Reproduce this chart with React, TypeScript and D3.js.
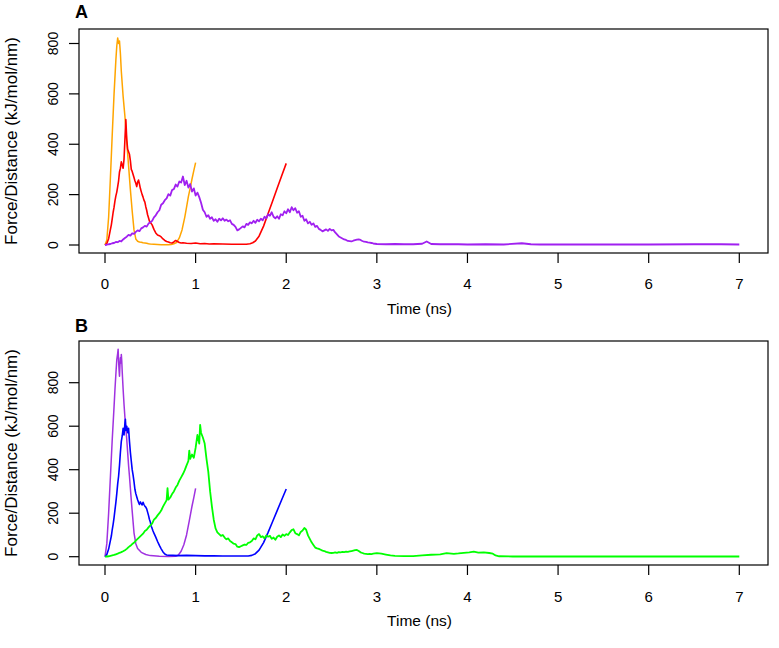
import React from 'react';
import * as d3 from 'd3';

type P = [number, number];

const xTicks = [0, 1, 2, 3, 4, 5, 6, 7];
const yTicks = [0, 200, 400, 600, 800];
const xTitle = 'Time (ns)';
const yTitle = 'Force/Distance (kJ/mol/nm)';

// Panel A series
const orangeA: P[] = [[0,0],[0.02,20],[0.04,110],[0.06,270],[0.08,440],[0.10,600],[0.12,735],[0.13,790],[0.14,822],[0.15,800],[0.16,810],[0.17,760],[0.18,690],[0.20,590],[0.22,510],[0.24,410],[0.26,315],[0.28,220],[0.30,135],[0.32,60],[0.34,24],[0.36,15],[0.38,12],[0.40,11],[0.42,9],[0.44,8],[0.46,7],[0.48,5],[0.50,4],[0.54,3],[0.58,2],[0.62,1],[0.66,1],[0.70,1],[0.73,2],[0.76,5],[0.79,10],[0.82,28],[0.85,60],[0.88,110],[0.90,150],[0.92,192],[0.94,226],[0.96,262],[0.98,295],[1.0,327]];

const redA: P[] = [[0,0],[0.02,6],[0.04,25],[0.06,62],[0.07,80],[0.08,105],[0.09,130],[0.10,150],[0.11,175],[0.12,195],[0.13,210],[0.14,232],[0.15,255],[0.16,290],[0.17,305],[0.18,330],[0.19,318],[0.20,305],[0.21,340],[0.22,420],[0.23,498],[0.24,420],[0.25,380],[0.26,370],[0.27,360],[0.28,335],[0.29,300],[0.30,292],[0.31,280],[0.32,268],[0.33,255],[0.34,245],[0.35,232],[0.36,250],[0.37,258],[0.38,242],[0.39,225],[0.40,212],[0.41,200],[0.42,190],[0.43,178],[0.44,170],[0.45,152],[0.46,138],[0.47,120],[0.48,108],[0.49,95],[0.50,90],[0.52,80],[0.54,62],[0.56,48],[0.58,40],[0.60,37],[0.62,32],[0.64,24],[0.66,18],[0.68,14],[0.70,12],[0.72,9],[0.74,8],[0.76,12],[0.78,18],[0.80,14],[0.82,10],[0.84,8],[0.86,9],[0.90,7],[0.95,6],[1.0,8],[1.05,5],[1.1,6],[1.15,4],[1.2,5],[1.3,4],[1.4,3],[1.5,3],[1.56,3],[1.6,5],[1.63,9],[1.66,16],[1.7,35],[1.75,75],[1.8,125],[1.85,175],[1.9,225],[1.95,275],[2.0,324]];

const purpleA: P[] = [[0,0],[0.02,1],[0.04,3],[0.06,4],[0.08,7],[0.10,8],[0.12,12],[0.14,11],[0.16,16],[0.18,14],[0.20,22],[0.22,28],[0.24,33],[0.26,40],[0.28,37],[0.30,46],[0.32,44],[0.34,52],[0.36,58],[0.38,55],[0.40,66],[0.42,70],[0.44,76],[0.46,73],[0.48,85],[0.50,90],[0.52,96],[0.54,110],[0.56,118],[0.58,130],[0.60,138],[0.62,160],[0.64,166],[0.66,178],[0.68,185],[0.70,202],[0.72,196],[0.74,218],[0.76,222],[0.78,240],[0.80,232],[0.82,252],[0.84,248],[0.86,272],[0.88,238],[0.90,255],[0.92,228],[0.94,242],[0.96,212],[0.98,225],[1.00,196],[1.02,208],[1.04,190],[1.06,168],[1.08,140],[1.10,130],[1.12,112],[1.14,118],[1.16,104],[1.18,110],[1.20,96],[1.22,102],[1.24,92],[1.26,104],[1.28,98],[1.30,106],[1.32,96],[1.34,101],[1.36,94],[1.38,98],[1.40,84],[1.42,80],[1.44,72],[1.46,58],[1.48,62],[1.50,68],[1.52,74],[1.54,70],[1.56,84],[1.58,80],[1.60,90],[1.62,86],[1.64,96],[1.66,88],[1.68,100],[1.70,94],[1.72,104],[1.74,98],[1.76,112],[1.78,106],[1.80,122],[1.82,116],[1.84,130],[1.86,112],[1.88,106],[1.90,114],[1.92,104],[1.94,122],[1.96,118],[1.98,134],[2.00,126],[2.02,142],[2.04,130],[2.06,150],[2.08,138],[2.10,146],[2.12,128],[2.14,134],[2.16,112],[2.18,116],[2.20,96],[2.22,102],[2.24,86],[2.26,92],[2.28,80],[2.30,86],[2.32,72],[2.34,76],[2.36,64],[2.38,60],[2.40,54],[2.42,58],[2.44,62],[2.46,56],[2.48,64],[2.50,58],[2.52,60],[2.54,50],[2.56,42],[2.58,34],[2.60,30],[2.62,26],[2.64,22],[2.66,20],[2.68,16],[2.70,15],[2.72,14],[2.74,17],[2.76,19],[2.78,21],[2.80,22],[2.82,20],[2.84,16],[2.86,13],[2.88,12],[2.90,10],[2.92,9],[2.94,8],[2.96,6],[2.98,5],[3.00,4],[3.1,3],[3.2,4],[3.3,3],[3.4,3],[3.5,5],[3.55,14],[3.6,4],[3.7,3],[3.8,3],[3.9,3],[4.0,2],[4.2,3],[4.4,2],[4.6,7],[4.7,3],[4.8,2],[5.0,2],[5.5,2],[6.0,2],[6.5,3],[6.8,3],[7.0,2]];

// Panel B series
const purpleB: P[] = [[0,0],[0.02,60],[0.04,200],[0.06,370],[0.08,540],[0.10,690],[0.11,770],[0.12,840],[0.13,905],[0.14,935],[0.145,954],[0.15,900],[0.155,860],[0.16,830],[0.165,880],[0.17,915],[0.175,890],[0.18,930],[0.185,900],[0.19,850],[0.20,770],[0.21,700],[0.22,640],[0.24,540],[0.26,420],[0.27,370],[0.29,260],[0.31,160],[0.32,110],[0.34,60],[0.36,38],[0.40,20],[0.45,10],[0.50,5],[0.6,2],[0.7,1],[0.78,2],[0.81,8],[0.84,25],[0.87,55],[0.90,100],[0.93,165],[0.96,232],[0.98,272],[1.0,314]];

const blueB: P[] = [[0,0],[0.02,10],[0.04,35],[0.06,75],[0.07,95],[0.08,125],[0.09,150],[0.10,180],[0.11,215],[0.12,250],[0.13,290],[0.14,335],[0.15,370],[0.16,420],[0.17,480],[0.18,530],[0.19,555],[0.20,590],[0.21,560],[0.22,615],[0.225,632],[0.23,580],[0.24,600],[0.25,570],[0.26,590],[0.27,530],[0.28,480],[0.29,440],[0.30,400],[0.31,375],[0.32,345],[0.33,310],[0.34,290],[0.35,276],[0.36,262],[0.37,250],[0.38,240],[0.39,252],[0.40,244],[0.41,238],[0.42,250],[0.43,240],[0.44,232],[0.45,228],[0.46,220],[0.47,205],[0.48,190],[0.49,172],[0.50,160],[0.51,140],[0.52,130],[0.53,118],[0.54,108],[0.56,90],[0.58,70],[0.60,52],[0.62,36],[0.64,22],[0.66,12],[0.68,8],[0.70,7],[0.75,6],[0.8,5],[0.9,6],[1.0,5],[1.1,4],[1.2,4],[1.3,3],[1.4,3],[1.5,3],[1.58,3],[1.62,6],[1.66,14],[1.7,30],[1.75,65],[1.8,112],[1.85,162],[1.9,212],[1.95,262],[2.0,311]];

const greenB: P[] = [[0,0],[0.02,1],[0.04,2],[0.06,4],[0.08,6],[0.10,8],[0.12,11],[0.14,14],[0.16,18],[0.18,21],[0.20,25],[0.22,30],[0.24,36],[0.26,44],[0.28,50],[0.30,58],[0.32,64],[0.34,74],[0.36,82],[0.38,90],[0.40,98],[0.42,106],[0.44,118],[0.46,124],[0.48,135],[0.50,144],[0.52,152],[0.54,170],[0.56,178],[0.58,190],[0.60,200],[0.62,212],[0.64,230],[0.66,245],[0.68,260],[0.69,315],[0.70,262],[0.72,272],[0.74,288],[0.76,300],[0.78,318],[0.80,330],[0.82,350],[0.84,365],[0.86,380],[0.88,398],[0.90,420],[0.92,440],[0.93,488],[0.94,450],[0.96,470],[0.98,455],[1.00,500],[1.02,560],[1.04,520],[1.05,606],[1.06,570],[1.08,548],[1.10,520],[1.12,450],[1.14,390],[1.16,300],[1.18,230],[1.20,170],[1.22,130],[1.24,112],[1.26,104],[1.28,96],[1.30,100],[1.32,88],[1.34,80],[1.36,84],[1.38,72],[1.40,66],[1.42,60],[1.44,58],[1.46,46],[1.48,44],[1.50,48],[1.52,52],[1.54,56],[1.56,54],[1.58,64],[1.60,66],[1.62,72],[1.64,84],[1.66,80],[1.68,98],[1.70,104],[1.72,90],[1.74,94],[1.76,84],[1.78,98],[1.80,92],[1.82,96],[1.84,82],[1.86,88],[1.88,78],[1.90,92],[1.92,98],[1.94,90],[1.96,102],[1.98,96],[2.00,104],[2.02,100],[2.04,112],[2.06,122],[2.08,126],[2.10,108],[2.12,104],[2.14,98],[2.16,114],[2.18,120],[2.20,132],[2.22,124],[2.24,98],[2.26,82],[2.28,66],[2.30,54],[2.32,42],[2.34,38],[2.36,36],[2.38,32],[2.40,28],[2.42,26],[2.44,22],[2.46,20],[2.48,18],[2.50,17],[2.52,18],[2.54,20],[2.56,18],[2.58,21],[2.60,20],[2.62,22],[2.64,21],[2.66,23],[2.68,22],[2.70,24],[2.72,26],[2.74,28],[2.76,30],[2.78,31],[2.80,26],[2.82,20],[2.84,17],[2.86,14],[2.88,13],[2.90,12],[2.92,13],[2.94,12],[2.96,14],[2.98,15],[3.00,16],[3.05,14],[3.1,10],[3.15,6],[3.2,4],[3.3,3],[3.4,3],[3.5,6],[3.6,9],[3.7,11],[3.77,16],[3.85,13],[3.9,15],[3.96,18],[4.02,20],[4.07,23],[4.12,19],[4.18,20],[4.24,17],[4.28,14],[4.31,6],[4.35,2],[4.5,1],[5.0,1],[5.5,1],[6.0,1],[6.5,1],[7.0,1]];

const FONT = '"Liberation Sans", Arial, Helvetica, sans-serif';

type Series = { data: P[]; color: string; width: number };

type PanelProps = {
  label: string;
  labelY: number;
  boxTop: number;
  boxBottom: number;
  yZero: number;
  y800: number;
  tickLabelY: number;
  titleY: number;
  series: Series[];
};

const BOX_LEFT = 79;
const BOX_RIGHT = 768;

function Panel(p: PanelProps) {
  const x = d3.scaleLinear().domain([0, 7]).range([105, 739.3]);
  const y = d3.scaleLinear().domain([0, 800]).range([p.yZero, p.y800]);
  const line = d3
    .line<P>()
    .x((d) => x(d[0]))
    .y((d) => y(d[1]));
  const midY = (p.boxTop + p.boxBottom) / 2;
  const midX = (BOX_LEFT + BOX_RIGHT) / 2;
  return (
    <g>
      <text x={75} y={p.labelY} fontFamily={FONT} fontWeight="bold" fontSize={18}>
        {p.label}
      </text>
      {p.series.map((s, i) => (
        <path key={i} d={line(s.data) || ''} fill="none" stroke={s.color} strokeWidth={s.width} strokeLinejoin="round" />
      ))}
      <rect x={BOX_LEFT} y={p.boxTop} width={BOX_RIGHT - BOX_LEFT} height={p.boxBottom - p.boxTop} fill="none" stroke="#000" strokeWidth={1.2} />
      {xTicks.map((t) => (
        <g key={t}>
          <line x1={x(t)} x2={x(t)} y1={p.boxBottom} y2={p.boxBottom + 10} stroke="#000" strokeWidth={1.2} />
          <text x={x(t)} y={p.tickLabelY + 5.5} textAnchor="middle" fontFamily={FONT} fontSize={15}>
            {t}
          </text>
        </g>
      ))}
      {yTicks.map((t) => (
        <g key={t}>
          <line x1={BOX_LEFT - 10} x2={BOX_LEFT} y1={y(t)} y2={y(t)} stroke="#000" strokeWidth={1.2} />
          <text transform={`translate(58,${y(t)}) rotate(-90)`} textAnchor="middle" fontFamily={FONT} fontSize={14}>
            {t}
          </text>
        </g>
      ))}
      <text x={midX - 4} y={p.titleY} textAnchor="middle" fontFamily={FONT} fontSize={15.5}>
        {xTitle}
      </text>
      <text transform={`translate(17,${midY}) rotate(-90)`} textAnchor="middle" fontFamily={FONT} fontSize={17}>
        {yTitle}
      </text>
    </g>
  );
}

export default function App() {
  return (
    <svg width={779} height={648} style={{ position: 'absolute', left: 0, top: 0, background: '#fff' }}>
      <rect x={0} y={0} width={779} height={648} fill="#fff" />
      <Panel
        label="A"
        labelY={18}
        boxTop={29}
        boxBottom={253}
        yZero={245}
        y800={43.5}
        tickLabelY={283}
        titleY={314}
        series={[
          { data: orangeA, color: '#FFA500', width: 1.5 },
          { data: redA, color: '#FF0000', width: 1.6 },
          { data: purpleA, color: '#A020F0', width: 1.8 },
        ]}
      />
      <Panel
        label="B"
        labelY={332}
        boxTop={341}
        boxBottom={565}
        yZero={556.7}
        y800={382.7}
        tickLabelY={596}
        titleY={626}
        series={[
          { data: purpleB, color: '#A032E0', width: 1.5 },
          { data: blueB, color: '#0000FF', width: 1.6 },
          { data: greenB, color: '#00FF00', width: 1.8 },
        ]}
      />
    </svg>
  );
}
